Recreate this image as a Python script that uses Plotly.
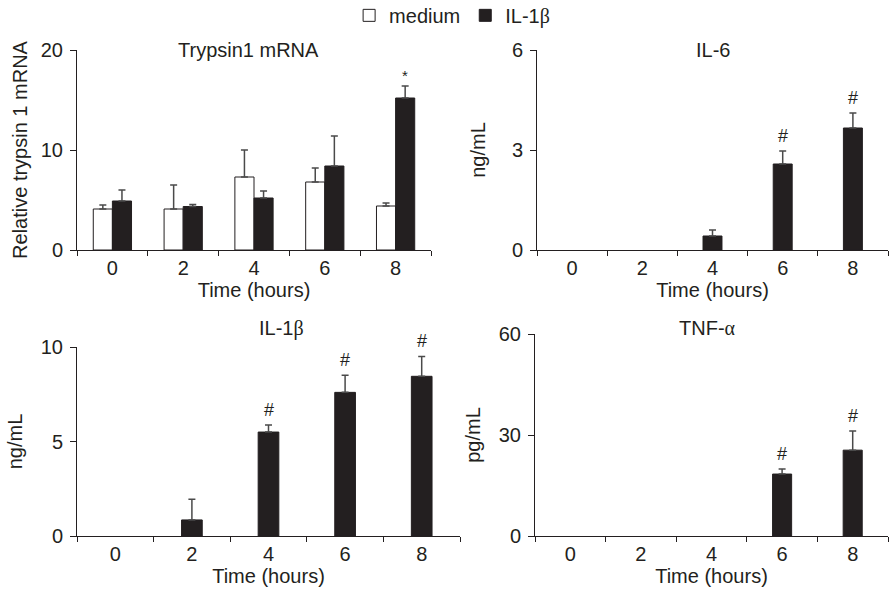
import plotly.graph_objects as go

# ---------------- data ----------------
hours = ["0", "2", "4", "6", "8"]

trypsin_medium = [4.1, 4.1, 7.3, 6.8, 4.4]
trypsin_medium_err = [0.4, 2.4, 2.7, 1.4, 0.3]
trypsin_il1b = [4.9, 4.35, 5.2, 8.4, 15.2]
trypsin_il1b_err = [1.1, 0.2, 0.7, 3.0, 1.2]
trypsin_sig = ["", "", "", "", "*"]

il6 = [None, None, 0.42, 2.58, 3.66]
il6_err = [None, None, 0.18, 0.39, 0.45]
il6_sig = ["", "", "", "#", "#"]

il1b = [None, 0.85, 5.5, 7.6, 8.45]
il1b_err = [None, 1.1, 0.37, 0.9, 1.05]
il1b_sig = ["", "", "#", "#", "#"]

tnfa = [None, None, None, 18.4, 25.5]
tnfa_err = [None, None, None, 1.5, 5.7]
tnfa_sig = ["", "", "", "#", "#"]

# ---------------- style ----------------
W, H = 890, 592
INK = "#231f20"
ERR = "#4a4a4a"
FONT = "Liberation Sans, Arial, Helvetica, sans-serif"
FS = 20
BW = 0.27
BETA = "<span style='font-family:Liberation Serif'>β</span>"
ALPHA = "<span style='font-family:Liberation Serif'>α</span>"


def px_x(a, b):
    return [a / W, b / W]


def px_y(top, bottom):
    return [1 - bottom / H, 1 - top / H]


def errbar(err):
    return dict(type="data", array=err, arrayminus=[0] * len(err), symmetric=False,
                color=ERR, thickness=1.5, width=3.5)


fig = go.Figure()

# Panel 1: Trypsin1 mRNA
fig.add_trace(go.Bar(x=hours, y=trypsin_medium, name="medium", width=BW, offset=-BW,
                     marker=dict(color="white", line=dict(color=INK, width=1)),
                     error_y=errbar(trypsin_medium_err), xaxis="x", yaxis="y"))
fig.add_trace(go.Bar(x=hours, y=trypsin_il1b, name="IL-1" + BETA,
                     width=BW, offset=0,
                     marker=dict(color=INK, line=dict(color=INK, width=1)),
                     error_y=errbar(trypsin_il1b_err), xaxis="x", yaxis="y"))

panels = [
    (il6, il6_err, "x2", "y2"),
    (il1b, il1b_err, "x3", "y3"),
    (tnfa, tnfa_err, "x4", "y4"),
]
for vals, err, xa, ya in panels:
    fig.add_trace(go.Bar(x=hours, y=vals, width=BW, showlegend=False,
                         marker=dict(color=INK, line=dict(color=INK, width=1)),
                         error_y=errbar(err), xaxis=xa, yaxis=ya))

xcommon = dict(type="category", range=[-0.5, 4.5], tickson="boundaries", ticks="outside",
               ticklen=5, tickwidth=1, tickcolor=INK, showline=True, linecolor=INK,
               linewidth=1, showgrid=False, zeroline=False, automargin=False,
               tickfont=dict(size=FS, color=INK, family=FONT),
               title=dict(text="Time (hours)", font=dict(size=FS, color=INK, family=FONT), standoff=2))
ycommon = dict(ticks="outside", ticklen=6, tickwidth=1, tickcolor=INK, showline=True,
               linecolor=INK, linewidth=1, showgrid=False, zeroline=False, automargin=False,
               ticklabelstandoff=3,
               tickfont=dict(size=FS, color=INK, family=FONT))

layout_axes = {
    "xaxis": dict(xcommon, domain=px_x(77, 431), anchor="y"),
    "yaxis": dict(ycommon, domain=px_y(50, 250), anchor="x", range=[0, 20], tickvals=[0, 10, 20],
                  title=dict(text="Relative trypsin 1 mRNA", standoff=7,
                             font=dict(size=FS, color=INK, family=FONT))),
    "xaxis2": dict(xcommon, domain=px_x(537, 888), anchor="y2"),
    "yaxis2": dict(ycommon, domain=px_y(50, 250), anchor="x2", range=[0, 6], tickvals=[0, 3, 6],
                   title=dict(text="ng/mL", standoff=20, font=dict(size=FS, color=INK, family=FONT))),
    "xaxis3": dict(xcommon, domain=px_x(77, 460), anchor="y3"),
    "yaxis3": dict(ycommon, domain=px_y(347, 536), anchor="x3", range=[0, 10], tickvals=[0, 5, 10],
                   title=dict(text="ng/mL", standoff=12, font=dict(size=FS, color=INK, family=FONT))),
    "xaxis4": dict(xcommon, domain=px_x(535, 888), anchor="y4"),
    "yaxis4": dict(ycommon, domain=px_y(334, 536), anchor="x4", range=[0, 60], tickvals=[0, 30, 60],
                   title=dict(text="pg/mL", standoff=12, font=dict(size=FS, color=INK, family=FONT))),
}

annotations = []
# panel titles
titles = [
    ("Trypsin1 mRNA", "x", 0.485, 50),
    ("IL-6", "x2", 0.5, 50),
    ("IL-1" + BETA, "x3", 0.535, 328),
    ("TNF-" + ALPHA, "x4", 0.49, 328),
]
for text, xa, xfrac, ypx in titles:
    annotations.append(dict(text=text, xref=f"{xa} domain", x=xfrac, yref="paper", y=1 - ypx / H,
                            xanchor="center", yanchor="middle", showarrow=False,
                            font=dict(size=FS, color=INK, family=FONT)))

# significance markers
sig_sets = [
    (trypsin_sig, trypsin_il1b, trypsin_il1b_err, "x", "y", BW / 2, 15, 0),
    (il6_sig, il6, il6_err, "x2", "y2", 0, 18, 3),
    (il1b_sig, il1b, il1b_err, "x3", "y3", 0, 18, 3),
    (tnfa_sig, tnfa, tnfa_err, "x4", "y4", 0, 18, 3),
]
for sig, vals, err, xa, ya, off, fs, ys in sig_sets:
    for i, s in enumerate(sig):
        if s:
            annotations.append(dict(text=s, x=i + off, y=vals[i] + err[i], xref=xa, yref=ya,
                                    xanchor="center", yanchor="bottom", yshift=ys, showarrow=False,
                                    font=dict(size=fs, color=INK, family=FONT)))

fig.update_layout(
    width=W, height=H,
    margin=dict(l=0, r=0, t=0, b=0, autoexpand=False),
    paper_bgcolor="white", plot_bgcolor="white",
    barmode="group",
    font=dict(family=FONT, size=FS, color=INK),
    legend=dict(orientation="h", x=0.508, xanchor="center", y=1.007, yanchor="top",
                font=dict(size=FS, color=INK, family=FONT), itemwidth=30,
                bgcolor="rgba(0,0,0,0)"),
    annotations=annotations,
    **layout_axes,
)

fig.write_html("out.html", config={"displayModeBar": False},
               post_script="document.body.style.margin='0';document.body.style.overflow='hidden';")
